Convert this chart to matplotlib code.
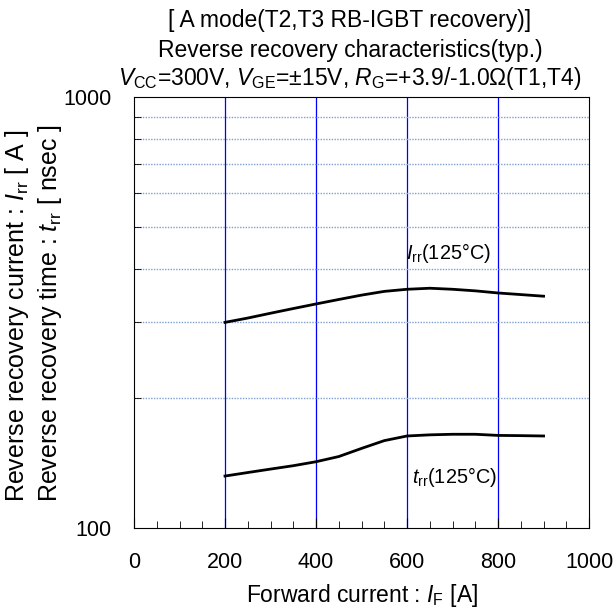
import numpy as np
import matplotlib
matplotlib.use('Agg')
import matplotlib.pyplot as plt
from matplotlib.ticker import FixedLocator, NullFormatter, MultipleLocator

plt.rcParams['font.family'] = ['Liberation Sans', 'DejaVu Sans']
plt.rcParams['mathtext.fontset'] = 'custom'
plt.rcParams['mathtext.rm'] = 'Liberation Sans'
plt.rcParams['mathtext.it'] = 'Liberation Sans:italic'

# 순방향 전류 IF [A]
i_f = [200, 250, 300, 350, 400, 450, 500, 550, 600, 650, 700, 750, 800, 850, 900]
# 역회복 전류 Irr [A]
irr = [300, 307, 315, 323, 331, 339, 347, 354, 358, 360, 358, 355, 351, 348, 345]
# 역회복 시간 trr [nsec]
trr = [132, 134.5, 137, 139.5, 142.5, 146.5, 153, 159.5, 163.5, 164.5, 165, 165, 164, 163.8, 163.5]

fig = plt.figure(figsize=(6.13, 6.10), dpi=100)
ax = fig.add_axes([0.2186, 0.1344, 0.7424, 0.7066])

ax.set_yscale('log')
ax.set_xlim(0, 1000)
ax.set_ylim(100, 1000)

# 격자
for x in [200, 400, 600, 800]:
    ax.axvline(x, color='#0000ff', lw=0.9, zorder=1)
for y in range(200, 1000, 100):
    ax.axhline(y, color='#7f9fd0', lw=1.0, ls=(0, (1, 1)), zorder=1)

ax.plot(i_f, irr, color='black', lw=2.0, zorder=3)
ax.plot(i_f, trr, color='black', lw=2.0, zorder=3)

ax.text(598, 435, r'$\mathit{I}_{\mathrm{rr}}$(125°C)', fontsize=14.3, va='center', ha='left')
ax.text(611, 131, r'$\mathit{t}_{\mathrm{rr}}$(125°C)', fontsize=14.3, va='center', ha='left')

ax.xaxis.set_major_locator(MultipleLocator(200))
ax.xaxis.set_minor_locator(MultipleLocator(50))
ax.yaxis.set_major_locator(FixedLocator([100, 1000]))
ax.yaxis.set_minor_locator(FixedLocator(list(range(200, 1000, 100))))
ax.yaxis.set_minor_formatter(NullFormatter())
ax.set_yticklabels(['100', '1000'])
ax.tick_params(which='both', direction='in', labelsize=15.5, top=False, right=False)
ax.tick_params(axis='x', which='major', length=7, pad=17)
ax.tick_params(which='minor', length=5)
ax.tick_params(axis='y', which='major', length=0, pad=16)

ax.set_xlabel(r'Forward current : $\mathit{I}_{\mathrm{F}}$ [A]', fontsize=16.5, labelpad=7)

fig.text(0.028, 0.177, r'Reverse recovery current : $\mathit{I}_{\mathrm{rr}}$ [ A ]',
         rotation=90, rotation_mode='anchor', ha='left', va='center', fontsize=18)
fig.text(0.082, 0.177, r'Reverse recovery time : $\mathit{t}_{\mathrm{rr}}$ [ nsec ]',
         rotation=90, rotation_mode='anchor', ha='left', va='center', fontsize=18)

fig.text(0.571, 0.966, '[ A mode(T2,T3 RB-IGBT recovery)]', ha='center', va='center', fontsize=16.5)
fig.text(0.571, 0.918, 'Reverse recovery characteristics(typ.)', ha='center', va='center', fontsize=16.5)
fig.text(0.571, 0.872, r'$V_{\mathrm{CC}}$=300V, $V_{\mathrm{GE}}$=±15V, $R_{\mathrm{G}}$=+3.9/-1.0Ω(T1,T4)',
         ha='center', va='center', fontsize=16.5)

fig.savefig('out.png', dpi=100)
